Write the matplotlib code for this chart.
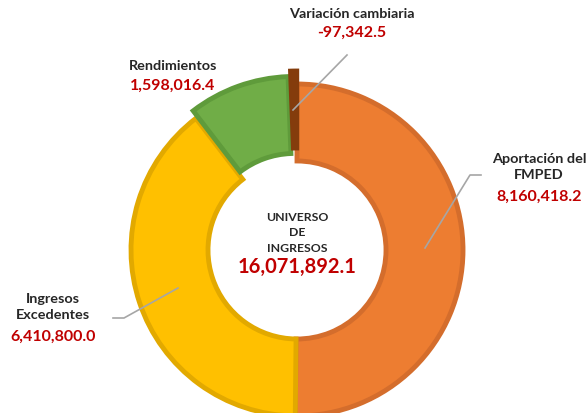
import numpy as np
import matplotlib.pyplot as plt

plt.rcParams['font.family'] = ['Lato', 'DejaVu Sans']

labels = ['Aportación del\nFMPED', 'Ingresos\nExcedentes', 'Rendimientos', 'Variación cambiaria']
values = [8160418.2, 6410800.0, 1598016.4, -97342.5]
total_label = 'UNIVERSO\nDE\nINGRESOS'
total = sum(values)

colors = ['#ED7D31', '#FFC000', '#70AD47', '#843C0C']
edges = ['#D46D2C', '#E2A900', '#5F9B3B', '#843C0C']
explode = [0, 0, 8, 13]
red = '#C00000'

fig = plt.figure(figsize=(5.87, 4.13), dpi=100)
ax = fig.add_axes([0, 0, 1, 1])

cx, cy, r = 297, 163, 166
wedges, _ = ax.pie(np.abs(values), colors=colors, startangle=90, counterclock=False,
                   explode=explode, center=(cx, cy), radius=r,
                   wedgeprops=dict(width=r - 89, linewidth=3.5))
for w, e in zip(wedges, edges):
    w.set_edgecolor(e)
ax.set_xlim(0, 587)
ax.set_ylim(0, 413)
ax.set_aspect('equal')
ax.axis('off')

# leader lines
lc = '#A6A6A6'
ax.plot([347, 293], [413 - 55, 413 - 110], color=lc, lw=1.2)
ax.plot([481, 470, 425], [413 - 175, 413 - 175, 413 - 248], color=lc, lw=1.2)
ax.plot([113, 124, 178], [413 - 318, 413 - 318, 413 - 288], color=lc, lw=1.2)

def fmt(v):
    return f'{v:,.1f}'

lab_pos = [(539, 167), (53, 307), (173, 66), (352, 14)]
val_pos = [(539, 197), (53, 337), (173, 86), (352, 33)]
for lab, v, (lx, ly), (vx, vy) in zip(labels, values, lab_pos, val_pos):
    ax.text(lx, 413 - ly, lab, ha='center', va='center', fontsize=10.4,
            fontweight='bold', color='#262626', linespacing=1.45)
    ax.text(vx, 413 - vy, fmt(v), ha='center', va='center', fontsize=11.5,
            fontweight='bold', color=red)

ax.text(cx, 413 - 233, total_label, ha='center', va='center', fontsize=8.8,
        fontweight='bold', color='#262626', linespacing=1.45)
ax.text(cx, 413 - 267, fmt(total), ha='center', va='center', fontsize=14.5,
        fontweight='bold', color=red)

fig.savefig('out.png', dpi=100)
